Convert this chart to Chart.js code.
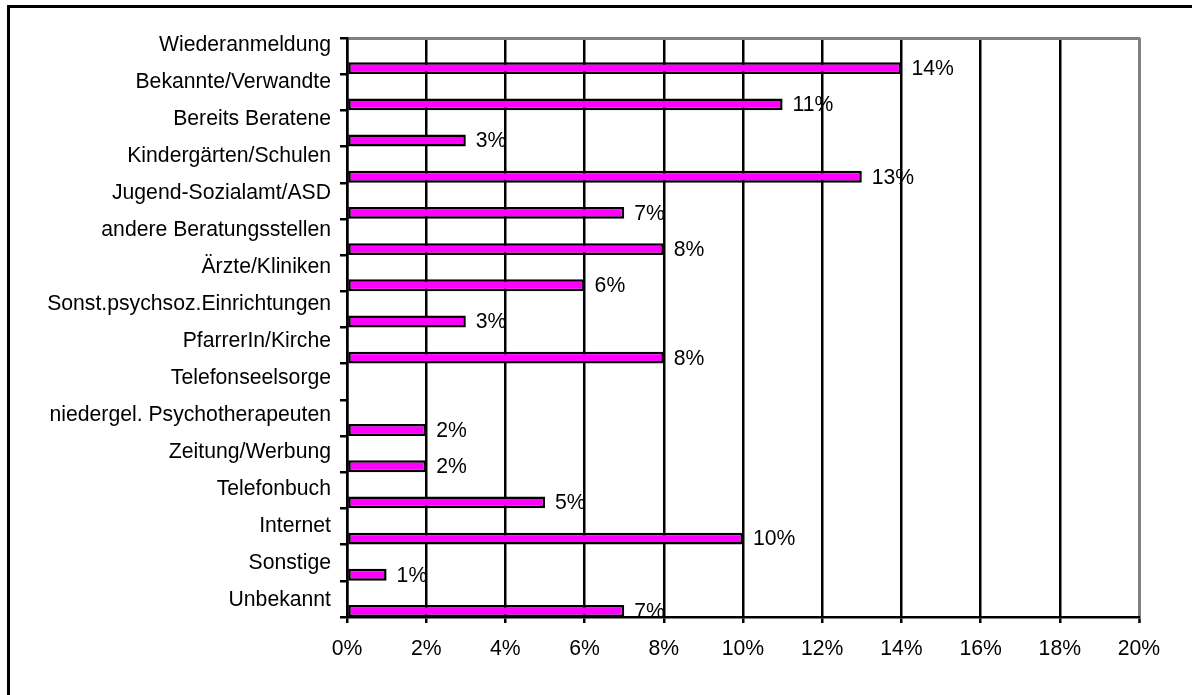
<!DOCTYPE html>
<html lang="de">
<head>
<meta charset="UTF-8">
<title>Zugangswege</title>
<style>
  html, body { margin: 0; padding: 0; background: #fff; overflow: hidden; }
  .frame {
    position: absolute; left: 7px; top: 5px;
    width: 1300px; height: 800px;
    border-left: 3px solid #000; border-top: 3px solid #000;
  }
  .chart-box { position: absolute; left: 0; top: 0; width: 1192px; height: 695px; }
</style>
<script src="https://cdn.jsdelivr.net/npm/chart.js"></script>
</head>
<body>
<div class="frame"></div>
<div class="chart-box"><canvas id="chart"></canvas></div>
<script>
const categories = [
  "Wiederanmeldung",
  "Bekannte/Verwandte",
  "Bereits Beratene",
  "Kindergärten/Schulen",
  "Jugend-Sozialamt/ASD",
  "andere Beratungsstellen",
  "Ärzte/Kliniken",
  "Sonst.psychsoz.Einrichtungen",
  "PfarrerIn/Kirche",
  "Telefonseelsorge",
  "niedergel. Psychotherapeuten",
  "Zeitung/Werbung",
  "Telefonbuch",
  "Internet",
  "Sonstige",
  "Unbekannt"
];
const percentValues = [14, 11, 3, 13, 7, 8, 6, 3, 8, 0, 2, 2, 5, 10, 1, 7];
const xTickValues = [0, 2, 4, 6, 8, 10, 12, 14, 16, 18, 20];

const FONT = '"Liberation Sans", Arial, sans-serif';
Chart.defaults.font.family = FONT;
Chart.defaults.font.size = 21.2;
Chart.defaults.color = '#000';

// Prozentwerte rechts neben die Balken schreiben
const valueLabels = {
  id: 'valueLabels',
  afterDatasetsDraw(chart) {
    const meta = chart.getDatasetMeta(2);
    const ctx = chart.ctx;
    ctx.save();
    ctx.font = '21.2px ' + FONT;
    ctx.fillStyle = '#000';
    ctx.textAlign = 'left';
    ctx.textBaseline = 'middle';
    meta.data.forEach((bar, i) => {
      const v = percentValues[i];
      if (!v) return;
      ctx.fillText(v + '%', bar.x + 10, bar.y + 1);
    });
    ctx.restore();
  }
};

new Chart(document.getElementById('chart'), {
  type: 'bar',
  data: {
    labels: categories,
    datasets: [
      // zwei leere Reihen, damit der Balken unten im Kategorienband sitzt (wie im Excel-Original)
      { data: [] },
      { data: [] },
      {
        data: percentValues,
        backgroundColor: '#FF00FF',
        borderColor: '#000',
        borderWidth: 2.5,
        borderSkipped: false
      }
    ]
  },
  options: {
    indexAxis: 'y',
    responsive: true,
    maintainAspectRatio: false,
    animation: false,
    categoryPercentage: 1,
    barPercentage: 0.98,
    layout: { padding: { left: 0, top: 38, right: 53, bottom: 0 } },
    plugins: { legend: { display: false }, tooltip: { enabled: false } },
    scales: {
      x: {
        type: 'linear',
        position: 'bottom',
        min: 0,
        max: 20,
        afterBuildTicks: s => { s.ticks = xTickValues.map(v => ({ value: v })); },
        afterFit: s => { s.height = 78; },
        ticks: { padding: 13, callback: v => v + '%' },
        grid: {
          color: c => (c.tick && c.tick.value === 20 ? '#808080' : '#000'),
          lineWidth: c => (c.tick && c.tick.value === 20 ? 3 : 2.5),
          tickColor: '#000',
          tickWidth: 2.5,
          tickLength: 6
        },
        border: { color: '#000', width: 2.5 }
      },
      xTop: {
        type: 'linear',
        position: 'top',
        min: 0,
        max: 20,
        afterFit: s => { s.height = 0; },
        ticks: { display: false },
        grid: { display: false, drawTicks: false },
        border: { color: '#808080', width: 3 }
      },
      y: {
        type: 'category',
        position: 'left',
        weight: 0,
        afterFit: s => { s.width = 8; },
        ticks: { display: false },
        grid: {
          offset: true,
          drawOnChartArea: false,
          drawTicks: true,
          tickLength: 7,
          color: '#000',
          lineWidth: 2.5
        },
        border: { color: '#000', width: 2.5 }
      },
      yLabels: {
        type: 'linear',
        position: 'left',
        weight: 1,
        offset: false,
        reverse: true,
        bounds: 'data',
        min: -0.19,
        max: 15.46,
        afterBuildTicks: s => { s.ticks = categories.map((_, i) => ({ value: i })); },
        afterFit: s => { s.width = 339; },
        ticks: { autoSkip: false, padding: 8, callback: v => categories[v] ?? '' },
        grid: { display: false, drawTicks: false, offset: false },
        border: { display: false }
      }
    }
  },
  plugins: [valueLabels]
});
</script>
</body>
</html>
